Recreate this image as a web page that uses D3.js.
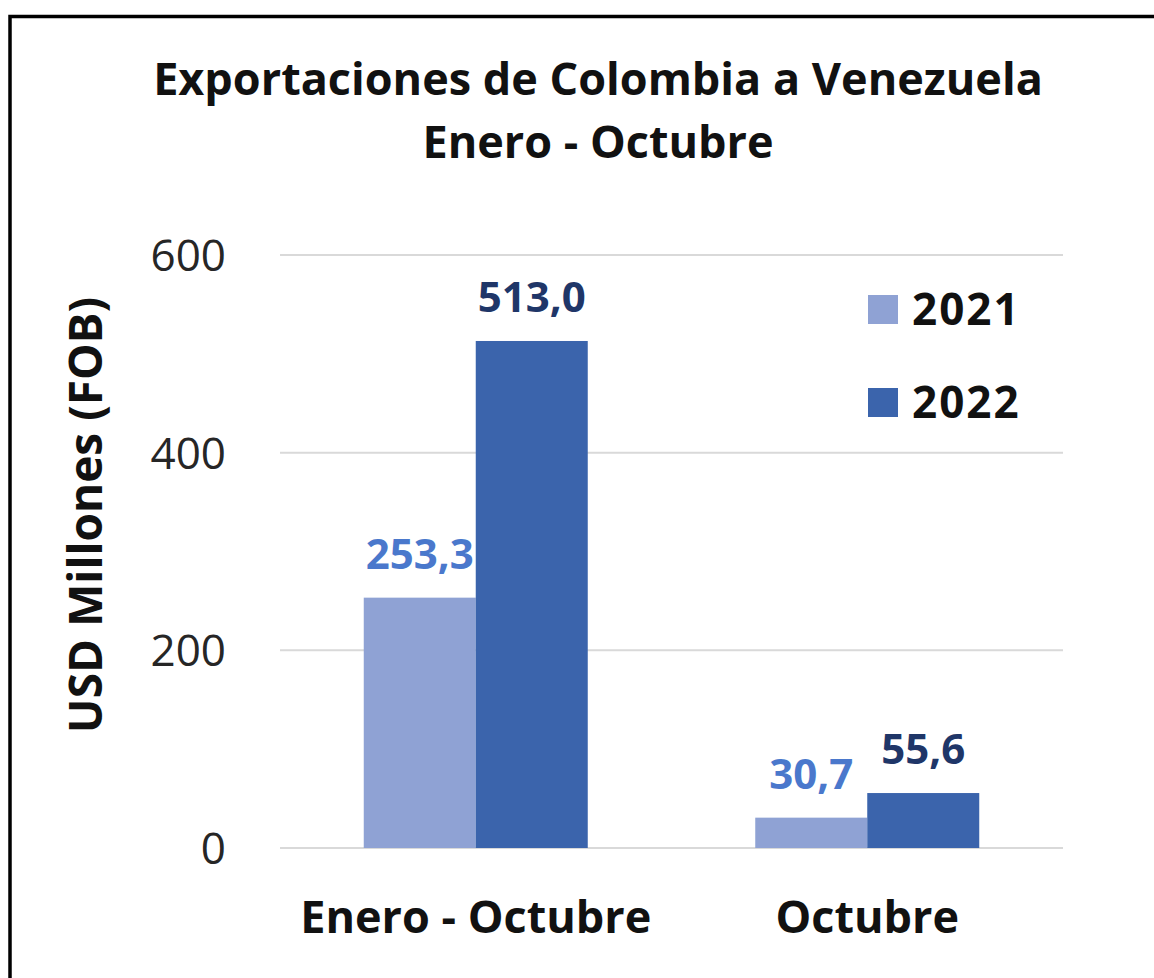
<!DOCTYPE html>
<html><head><meta charset="utf-8">
<script src="https://cdn.jsdelivr.net/npm/d3@7"></script>
<style>body{margin:0;background:#fff}svg{display:block}</style>
</head><body>
<svg id="c" width="1154" height="978"></svg>
<script>
const categories = ["Enero - Octubre", "Octubre"];
const seriesNames = ["2021", "2022"];
const values2021 = [253.3, 30.7];
const values2022 = [513.0, 55.6];
const yTicks = [0, 200, 400, 600];
const titleLines = ["Exportaciones de Colombia a Venezuela", "Enero - Octubre"];
const yTitle = "USD Millones (FOB)";

(function () {
const barColors = ["#8FA2D4", "#3B64AC"];
const labelColors = ["#4A78CC", "#1F3668"];
const font = "'Open Sans', Lato, sans-serif";

const svg = d3.select("#c");
svg.append("rect").attr("x", 10).attr("y", 16.5).attr("width", 1160).attr("height", 1000)
  .attr("fill", "#fff").attr("stroke", "#000").attr("stroke-width", 3.5);

const pLeft = 280, pRight = 1063, pTop = 255, pBottom = 848;
const y = d3.scaleLinear().domain([0, 600]).range([pBottom, pTop]);
const x0 = d3.scaleBand().domain(categories).range([pLeft, pRight]).padding(0);
const barW = 112;
const x1 = d3.scaleBand().domain(seriesNames)
  .range([(x0.bandwidth() - 2 * barW) / 2, (x0.bandwidth() + 2 * barW) / 2]);

svg.append("g").selectAll("line").data(yTicks).join("line")
  .attr("x1", pLeft).attr("x2", pRight)
  .attr("y1", d => y(d)).attr("y2", d => y(d))
  .attr("stroke", "#d9d9d9").attr("stroke-width", 2);

const yAxis = svg.append("g").attr("transform", `translate(${pLeft - 54},0)`)
  .call(d3.axisLeft(y).tickValues(yTicks).tickSize(0).tickPadding(0));
yAxis.select(".domain").remove();
yAxis.selectAll("text").attr("font-family", font).attr("font-size", 44)
  .attr("fill", "#262626").attr("dy", "0.35em");

const xAxis = svg.append("g").attr("transform", `translate(0,${pBottom})`)
  .call(d3.axisBottom(x0).tickSize(0).tickPadding(0));
xAxis.select(".domain").remove();
xAxis.selectAll("text").attr("font-family", font).attr("font-size", 45)
  .attr("font-weight", "bold").attr("fill", "#111").attr("dy", "0").attr("y", 85);

const data = categories.map((c, i) => ({cat: c, vals: [values2021[i], values2022[i]]}));

const groups = svg.append("g").selectAll("g").data(data).join("g")
  .attr("transform", d => `translate(${x0(d.cat)},0)`);
groups.selectAll("rect").data(d => d.vals.map((v, j) => ({s: seriesNames[j], v, j}))).join("rect")
  .attr("x", d => x1(d.s)).attr("width", x1.bandwidth())
  .attr("y", d => y(d.v)).attr("height", d => y(0) - y(d.v))
  .attr("fill", d => barColors[d.j]);
groups.selectAll("text").data(d => d.vals.map((v, j) => ({s: seriesNames[j], v, j}))).join("text")
  .attr("x", d => x1(d.s) + x1.bandwidth() / 2)
  .attr("y", d => y(d.v) - 29)
  .attr("text-anchor", "middle").attr("font-family", font).attr("font-size", 42)
  .attr("font-weight", "bold").attr("fill", d => labelColors[d.j])
  .text(d => d3.format(".1f")(d.v).replace(".", ","));

svg.append("g").selectAll("text").data(titleLines).join("text")
  .attr("x", 598).attr("y", (d, i) => 95 + i * 63)
  .attr("text-anchor", "middle").attr("font-family", font).attr("font-size", 45)
  .attr("font-weight", "bold").attr("fill", "#111").text(d => d);

svg.append("text").attr("transform", "translate(102,515) rotate(-90)")
  .attr("text-anchor", "middle").attr("font-family", font).attr("font-size", 46)
  .attr("font-weight", "bold").attr("fill", "#111").text(yTitle);

const lg = svg.append("g").selectAll("g").data(seriesNames).join("g")
  .attr("transform", (d, i) => `translate(868,${295 + i * 93})`);
lg.append("rect").attr("width", 30).attr("height", 29).attr("fill", (d, i) => barColors[i]);
lg.append("text").attr("x", 44).attr("y", 30).attr("font-family", font).attr("font-size", 44)
  .attr("letter-spacing", 2)
  .attr("font-weight", "bold").attr("fill", "#111").text(d => d);
})();
</script>
</body></html>
